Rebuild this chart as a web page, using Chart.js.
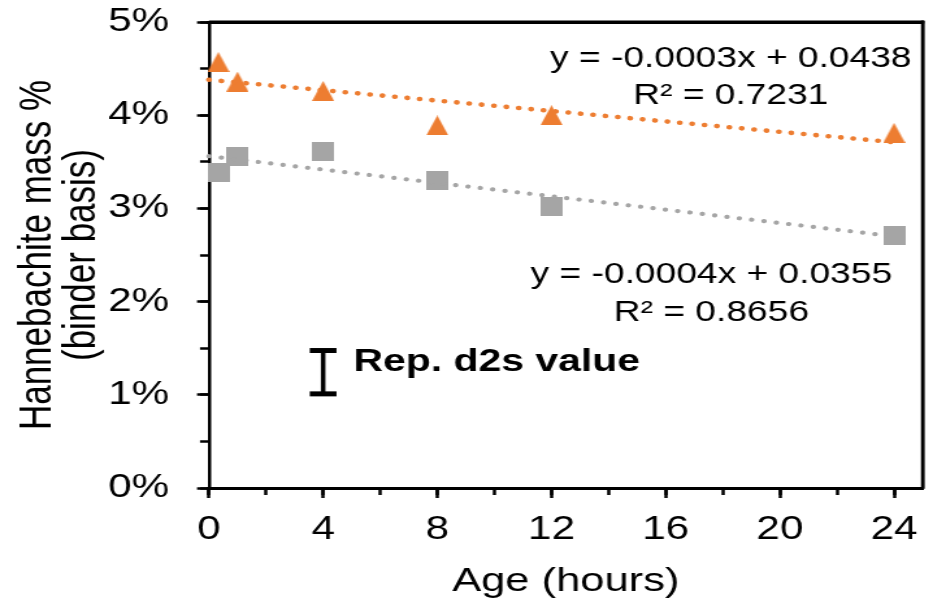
<!DOCTYPE html>
<html>
<head>
<meta charset="utf-8">
<script src="https://cdn.jsdelivr.net/npm/chart.js@4/dist/chart.umd.min.js"></script>
<style>
html,body{margin:0;padding:0;background:#fff;overflow:hidden}
</style>
</head>
<body>
<canvas id="c" width="718" height="602" style="display:block;width:933px;height:602px"></canvas>
<script>
// ---- data ----
const ages = [0.33, 1, 4, 8, 12, 24];                    // hours
const seriesOrange = [4.57, 4.36, 4.26, 3.89, 4.00, 3.81]; // %
const seriesGray = [3.38, 3.56, 3.61, 3.30, 3.02, 2.71];   // %
const trendX = [0, 24];
const trendOrange = [4.38, 3.71];
const trendGray = [3.56, 2.70];
const xTicks = [0, 4, 8, 12, 16, 20, 24];
const yTicks = [0, 1, 2, 3, 4, 5];
const repX = [4, 4];
const repY = [1.01, 1.475];
const eqOrange = ['y = -0.0003x + 0.0438', 'R\u00B2 = 0.7231'];
const eqGray = ['y = -0.0004x + 0.0355', 'R\u00B2 = 0.8656'];
const repLabel = 'Rep. d2s value';
const xTitle = 'Age (hours)';
const yTitle = ['Hannebachite mass %', '(binder basis)'];

// ---- styling / placement ----
const ORANGE = '#ED7D31', GRAY = '#A5A5A5';
const FONT = "'Liberation Sans', Arial, Helvetica, sans-serif";
const eqOrangePos = {x: 18.28, y: [4.52, 4.12]};
const eqGrayPos = {x: 17.6, y: [2.196, 1.795]};
const repPos = {x: 5.06, y: 1.259};

function makeMarker(shape, w, h, color) {
  const c = document.createElement('canvas');
  c.width = w; c.height = h;
  const g = c.getContext('2d');
  g.fillStyle = color;
  if (shape === 'tri') {
    g.beginPath(); g.moveTo(w / 2, 0); g.lineTo(w, h); g.lineTo(0, h); g.closePath(); g.fill();
  } else {
    g.fillRect(0, 0, w, h);
  }
  return c;
}
const triImg = makeMarker('tri', 17, 20, ORANGE);
const sqImg = makeMarker('sq', 17, 19, GRAY);

const pts = (xs, ys) => xs.map((x, i) => ({x, y: ys[i]}));
const noPad = s => { s.paddingLeft = 0; s.paddingRight = 0; s.paddingTop = 0; s.paddingBottom = 0; };

const decor = {
  id: 'decor',
  afterDraw(chart) {
    const {ctx, chartArea: a, scales} = chart;
    const sx = scales.x, sy = scales.y;
    ctx.save();
    ctx.setTransform(1, 0, 0, 1, 0, 0);
    ctx.setLineDash([]);
    ctx.globalAlpha = 1;
    ctx.globalCompositeOperation = 'source-over';
    // plot-area frame (top and right edges; left/bottom coincide with the axes)
    ctx.fillStyle = '#000000';
    ctx.fillRect(a.left, a.top - 1.5, a.right - a.left + 1.3, 3);
    ctx.fillRect(a.right - 1.25, a.top - 1.5, 2.5, a.bottom - a.top + 1.5);
    ctx.textBaseline = 'alphabetic';
    ctx.textAlign = 'center';
    ctx.font = '28.6px ' + FONT;
    eqOrange.forEach((t, i) => ctx.fillText(t, sx.getPixelForValue(eqOrangePos.x), sy.getPixelForValue(eqOrangePos.y[i])));
    eqGray.forEach((t, i) => ctx.fillText(t, sx.getPixelForValue(eqGrayPos.x), sy.getPixelForValue(eqGrayPos.y[i])));
    ctx.textAlign = 'left';
    ctx.font = 'bold 31.5px ' + FONT;
    ctx.fillText(repLabel, sx.getPixelForValue(repPos.x), sy.getPixelForValue(repPos.y));
    ctx.restore();
  }
};

Chart.defaults.font.family = FONT;
Chart.defaults.color = '#000';

new Chart(document.getElementById('c'), {
  type: 'scatter',
  data: {
    datasets: [
      {label: 'trend orange', data: pts(trendX, trendOrange), showLine: true, borderColor: ORANGE,
       borderWidth: 4.6, borderDash: [0.1, 9.5], borderCapStyle: 'round', pointRadius: 0, clip: false},
      {label: 'trend gray', data: pts(trendX, trendGray), showLine: true, borderColor: GRAY,
       borderWidth: 4.2, borderDash: [0.1, 9.5], borderCapStyle: 'round', pointRadius: 0, clip: false},
      {label: 'Orange', data: pts(ages, seriesOrange), pointStyle: triImg, pointRadius: 9, clip: false},
      {label: 'Gray', data: pts(ages, seriesGray), pointStyle: sqImg, pointRadius: 9, clip: false},
      {label: 'Rep. d2s', data: pts(repX, repY), showLine: true, borderColor: '#000', borderWidth: 3.5,
       pointStyle: 'line', pointRadius: 10.3, pointHoverRadius: 10.3, pointBorderWidth: 5, pointBorderColor: '#000',
       pointBackgroundColor: '#000', clip: false}
    ]
  },
  options: {
    responsive: false,
    animation: false,
    events: [],
    layout: {autoPadding: false, padding: {top: 22, right: 8, bottom: 0, left: 0}},
    plugins: {legend: {display: false}, tooltip: {enabled: false}},
    scales: {
      x: {
        type: 'linear', position: 'bottom', min: 0, max: 25,
        afterBuildTicks: s => { s.ticks = xTicks.map(v => ({value: v})); },
        ticks: {font: {size: 32.5}, color: '#000', padding: 12.5, maxRotation: 0, autoSkip: false},
        grid: {drawOnChartArea: false, drawTicks: true, tickLength: 10, tickWidth: 2.5, tickColor: '#000'},
        border: {display: true, color: '#000', width: 3},
        title: {display: true, text: xTitle, font: {size: 33.5}, color: '#000', padding: {top: 0, bottom: 0}},
        afterFit: s => { s.height = 114; noPad(s); }
      },
      y: {
        type: 'linear', position: 'left', min: 0, max: 5,
        afterBuildTicks: s => { s.ticks = yTicks.map(v => ({value: v})); },
        ticks: {font: {size: 32.5}, color: '#000', padding: 21.5, callback: v => v + '%'},
        grid: {drawOnChartArea: false, drawTicks: true, tickLength: 9.2, tickWidth: 2.5, tickColor: '#000'},
        border: {display: true, color: '#000', width: 2.5},
        title: {display: true, text: yTitle, font: {size: 35, lineHeight: 0.97}, color: '#000', padding: {top: 12.5, bottom: 0}},
        afterFit: s => { s.width = 160.8; noPad(s); }
      },
      xMinor: {
        axis: 'x', type: 'linear', position: 'bottom', min: 0, max: 25, weight: -5,
        ticks: {display: false, stepSize: 2, includeBounds: false},
        grid: {drawOnChartArea: false, drawTicks: true, tickLength: 7, tickWidth: 2.5, tickColor: '#000'},
        border: {display: false},
        afterFit: s => { s.height = 0; noPad(s); }
      },
      yMinor: {
        axis: 'y', type: 'linear', position: 'left', min: 0, max: 5, weight: -5,
        ticks: {display: false, stepSize: 0.5, includeBounds: false},
        grid: {drawOnChartArea: false, drawTicks: true, tickLength: 6.9, tickWidth: 2.5, tickColor: '#000'},
        border: {display: false},
        afterFit: s => { s.width = 0; noPad(s); }
      },
      xTop: {
        axis: 'x', type: 'linear', position: 'top', min: 0, max: 25,
        ticks: {display: false},
        grid: {display: true, drawOnChartArea: false, drawTicks: false},
        border: {display: true, color: '#000', width: 3},
        afterFit: s => { s.height = 0; noPad(s); }
      },
      yRight: {
        axis: 'y', type: 'linear', position: 'right', min: 0, max: 5,
        ticks: {display: false},
        grid: {display: true, drawOnChartArea: false, drawTicks: false},
        border: {display: true, color: '#000', width: 2.5},
        afterFit: s => { s.width = 0; noPad(s); }
      }
    }
  },
  plugins: [decor]
});
</script>
</body>
</html>
